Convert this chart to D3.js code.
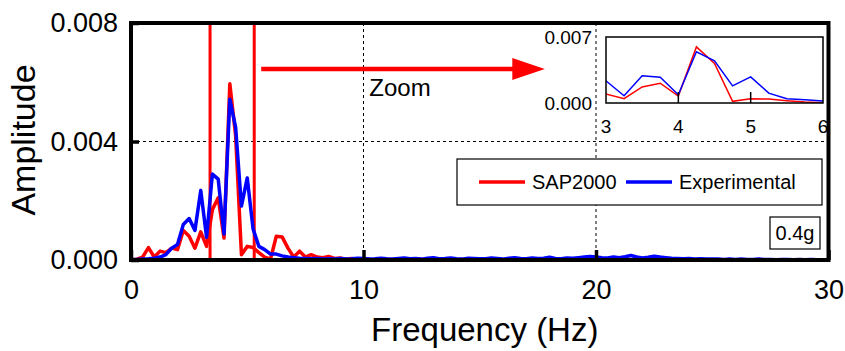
<!DOCTYPE html>
<html>
<head>
<meta charset="utf-8">
<script src="https://cdn.jsdelivr.net/npm/d3@7"></script>
<style>
  body { margin: 0; background: #fff; }
  svg { display: block; font-family: "Liberation Sans", Arial, sans-serif; }
</style>
</head>
<body>
<div id="chart"></div>
<script>
// frequency bins are every 0.25 Hz from 0 to 30 Hz
const freqStep = 0.25;

// SAP2000 amplitude spectrum
const sapAmp = [
  0.00000, 0.00003, 0.00010, 0.00042, 0.00010, 0.00030, 0.00025, 0.00040, 0.00035, 0.00100,
  0.00080, 0.00040, 0.00095, 0.00046, 0.00170, 0.00210, 0.00074, 0.00595, 0.00420, 0.00018,
  0.00046, 0.00042, 0.00025, 0.00010, 0.00003, 0.00080, 0.00078, 0.00040, 0.00010, 0.00030,
  0.00010, 0.00018, 0.00010, 0.00008, 0.00012, 0.00005, 0.00007, 0.00003, 0.00005, 0.00002,
  0.00004,
  0.00002, 0.00001, 0.00003, 0.00002, 0.00001, 0.00002, 0.00003, 0.00001, 0.00002, 0.00002,
  0.00001, 0.00003, 0.00002, 0.00001, 0.00002, 0.00001, 0.00002, 0.00003, 0.00001, 0.00002,
  0.00002, 0.00001, 0.00002, 0.00001, 0.00003, 0.00002, 0.00001, 0.00002, 0.00002, 0.00001,
  0.00002, 0.00003, 0.00002, 0.00001, 0.00002, 0.00001, 0.00002, 0.00002, 0.00001, 0.00002,
  0.00001, 0.00002, 0.00001, 0.00001, 0.00002, 0.00001, 0.00001, 0.00002, 0.00001, 0.00001,
  0.00001, 0.00001, 0.00002, 0.00001, 0.00001, 0.00001, 0.00001, 0.00001, 0.00001, 0.00001,
  0.00001, 0.00001, 0.00001, 0.00001, 0.00001, 0.00001, 0.00001, 0.00001, 0.00001, 0.00001
];

// Experimental amplitude spectrum
const expAmp = [
  0.00002, 0.00002, 0.00003, 0.00004, 0.00006, 0.00010, 0.00018, 0.00040, 0.00052, 0.00120,
  0.00140, 0.00100, 0.00235, 0.00077, 0.00290, 0.00273, 0.00088, 0.00543, 0.00448, 0.00182,
  0.00277, 0.00105, 0.00046, 0.00035, 0.00020, 0.00020, 0.00014, 0.00010, 0.00008, 0.00006,
  0.00005, 0.00004, 0.00005, 0.00003, 0.00004, 0.00003, 0.00005, 0.00003, 0.00004, 0.00006,
  0.00005,
  0.00003, 0.00004, 0.00006, 0.00004, 0.00003, 0.00005, 0.00007, 0.00004, 0.00005, 0.00003,
  0.00006, 0.00008, 0.00004, 0.00005, 0.00007, 0.00004, 0.00003, 0.00006, 0.00005, 0.00004,
  0.00004, 0.00007, 0.00005, 0.00003, 0.00006, 0.00008, 0.00005, 0.00004, 0.00007, 0.00005,
  0.00006, 0.00009, 0.00005, 0.00004, 0.00007, 0.00006, 0.00008, 0.00010, 0.00012, 0.00010,
  0.00008, 0.00007, 0.00010, 0.00008, 0.00011, 0.00015, 0.00010, 0.00007, 0.00009, 0.00013,
  0.00010, 0.00008, 0.00006, 0.00005, 0.00004, 0.00005, 0.00003, 0.00004, 0.00003, 0.00003,
  0.00003, 0.00002, 0.00003, 0.00002, 0.00003, 0.00002, 0.00002, 0.00003, 0.00002, 0.00002,
  0.00001, 0.00002, 0.00002, 0.00001, 0.00002, 0.00001, 0.00002, 0.00001, 0.00001, 0.00001
];

const seriesNames = ['SAP2000', 'Experimental'];
const seriesColors = ['#ff0000', '#0000ff'];

const xTicks = [0, 10, 20, 30];
const yTicks = [0, 0.004, 0.008];
const insetXTicks = [3, 4, 5, 6];
const insetYLabels = ['0.007', '0.000'];

// zoom window marked on the main plot, and arrow toward the inset
const zoomBand = [3.4, 5.3];
const arrowFrom = [5.6, 0.00645];
const arrowTo = [17.8, 0.00645];
const arrowHeadStart = 16.4;
const zoomLabelAt = [10.25, 0.00552];

const width = 845;
const height = 351;
const margin = { top: 23, right: 16.5, bottom: 91, left: 131 };
const innerW = width - margin.left - margin.right;
const innerH = height - margin.top - margin.bottom;

const svg = d3.select('#chart').append('svg')
  .attr('width', width)
  .attr('height', height);

const x = d3.scaleLinear().domain([0, 30]).range([margin.left, margin.left + innerW]);
const y = d3.scaleLinear().domain([0, 0.008]).range([margin.top + innerH, margin.top]);

const sapPts = sapAmp.map((v, i) => ({ f: i * freqStep, a: v }));
const expPts = expAmp.map((v, i) => ({ f: i * freqStep, a: v }));

// dotted grid
const grid = svg.append('g')
  .attr('stroke', '#000')
  .attr('stroke-width', 1)
  .attr('stroke-dasharray', '3,3');
[10, 20].forEach((v) => {
  grid.append('line')
    .attr('x1', x(v)).attr('x2', x(v))
    .attr('y1', y(0.008)).attr('y2', y(0));
});
grid.append('line')
  .attr('x1', x(0)).attr('x2', x(30))
  .attr('y1', y(0.004)).attr('y2', y(0.004));

// zoom band
svg.append('rect')
  .attr('x', x(zoomBand[0]))
  .attr('y', y(0.008))
  .attr('width', x(zoomBand[1]) - x(zoomBand[0]))
  .attr('height', y(0) - y(0.008))
  .attr('fill', 'none')
  .attr('stroke', '#ff0000')
  .attr('stroke-width', 3);

// spectra
const line = d3.line().x((d) => x(d.f)).y((d) => y(d.a));
[sapPts, expPts].forEach((pts, i) => {
  svg.append('path')
    .datum(pts)
    .attr('d', line)
    .attr('fill', 'none')
    .attr('stroke', seriesColors[i])
    .attr('stroke-width', 3.5)
    .attr('stroke-linejoin', 'round');
});

// arrow
svg.append('line')
  .attr('x1', x(arrowFrom[0])).attr('y1', y(arrowFrom[1]))
  .attr('x2', x(arrowHeadStart) + 2).attr('y2', y(arrowTo[1]))
  .attr('stroke', '#ff0000')
  .attr('stroke-width', 4.5);
svg.append('path')
  .attr('d', `M${x(arrowHeadStart)},${y(arrowTo[1]) - 11} L${x(arrowTo[0])},${y(arrowTo[1])} L${x(arrowHeadStart)},${y(arrowTo[1]) + 11} Z`)
  .attr('fill', '#ff0000');

svg.append('text')
  .attr('x', x(zoomLabelAt[0]))
  .attr('y', y(zoomLabelAt[1]))
  .attr('font-size', 24)
  .text('Zoom');

// axes
const xAxis = svg.append('g')
  .attr('transform', `translate(0,${y(0)})`)
  .call(d3.axisBottom(x).tickValues(xTicks).tickSize(-10).tickPadding(20).tickFormat(d3.format('d')));
const yAxis = svg.append('g')
  .attr('transform', `translate(${x(0)},0)`)
  .call(d3.axisLeft(y).tickValues(yTicks).tickSize(-8).tickPadding(13).tickFormat(d3.format('.3f')));
[xAxis, yAxis].forEach((g) => {
  g.select('.domain').remove();
  g.selectAll('.tick line').attr('stroke', '#000').attr('stroke-width', 3.5);
  g.selectAll('.tick text').attr('fill', '#000').attr('font-size', 27)
    .attr('font-family', '"Liberation Sans", Arial, sans-serif');
});

// frame
svg.append('rect')
  .attr('x', x(0)).attr('y', y(0.008))
  .attr('width', x(30) - x(0))
  .attr('height', y(0) - y(0.008))
  .attr('fill', 'none')
  .attr('stroke', '#000')
  .attr('stroke-width', 4);

// axis titles
svg.append('text')
  .attr('x', (x(0) + x(30)) / 2 + 5)
  .attr('y', 341)
  .attr('text-anchor', 'middle')
  .attr('font-size', 33)
  .text('Frequency (Hz)');
svg.append('text')
  .attr('transform', `translate(35,${140}) rotate(-90)`)
  .attr('text-anchor', 'middle')
  .attr('font-size', 34)
  .text('Amplitude');

// inset
const ix = d3.scaleLinear().domain([3, 6]).range([606, 823]);
const iy = d3.scaleLinear().domain([0, 0.007]).range([103, 37]);

svg.append('rect')
  .attr('x', ix(3)).attr('y', iy(0.007))
  .attr('width', ix(6) - ix(3)).attr('height', iy(0) - iy(0.007))
  .attr('fill', '#fff');

svg.append('clipPath').attr('id', 'inset-clip')
  .append('rect')
  .attr('x', ix(3)).attr('y', iy(0.007))
  .attr('width', ix(6) - ix(3)).attr('height', iy(0) - iy(0.007));

const iline = d3.line().x((d) => ix(d.f)).y((d) => iy(d.a));
[sapPts, expPts].forEach((pts, i) => {
  svg.append('path')
    .datum(pts.filter((d) => d.f >= 2.75 && d.f <= 6.25))
    .attr('d', iline)
    .attr('clip-path', 'url(#inset-clip)')
    .attr('fill', 'none')
    .attr('stroke', seriesColors[i])
    .attr('stroke-width', 1.5);
});

[4, 5].forEach((v) => {
  svg.append('line')
    .attr('x1', ix(v)).attr('x2', ix(v))
    .attr('y1', iy(0)).attr('y2', iy(0) - 11)
    .attr('stroke', '#000')
    .attr('stroke-width', 1.5);
});

svg.append('rect')
  .attr('x', ix(3)).attr('y', iy(0.007))
  .attr('width', ix(6) - ix(3)).attr('height', iy(0) - iy(0.007))
  .attr('fill', 'none')
  .attr('stroke', '#000')
  .attr('stroke-width', 1.5);

insetXTicks.forEach((v) => {
  svg.append('text')
    .attr('x', ix(v)).attr('y', 133)
    .attr('text-anchor', 'middle')
    .attr('font-size', 19)
    .text(v);
});
[0.007, 0].forEach((v, i) => {
  svg.append('text')
    .attr('x', 592).attr('y', iy(v))
    .attr('dy', '0.36em')
    .attr('text-anchor', 'end')
    .attr('font-size', 19)
    .text(insetYLabels[i]);
});

// legend
const legend = svg.append('g');
legend.append('rect')
  .attr('x', 457).attr('y', 159)
  .attr('width', 365).attr('height', 46)
  .attr('fill', '#fff')
  .attr('stroke', '#000')
  .attr('stroke-width', 1.2);
const legendX = [479, 626];
seriesNames.forEach((name, i) => {
  legend.append('line')
    .attr('x1', legendX[i]).attr('x2', legendX[i] + 46)
    .attr('y1', 182).attr('y2', 182)
    .attr('stroke', seriesColors[i])
    .attr('stroke-width', 3.5);
  legend.append('text')
    .attr('x', legendX[i] + 53).attr('y', 189)
    .attr('font-size', 20)
    .text(name);
});

// load case label
svg.append('rect')
  .attr('x', 770).attr('y', 217)
  .attr('width', 50).attr('height', 32)
  .attr('fill', '#fff')
  .attr('stroke', '#000')
  .attr('stroke-width', 1.2);
svg.append('text')
  .attr('x', 795).attr('y', 240)
  .attr('text-anchor', 'middle')
  .attr('font-size', 20)
  .text('0.4g');
</script>
</body>
</html>
